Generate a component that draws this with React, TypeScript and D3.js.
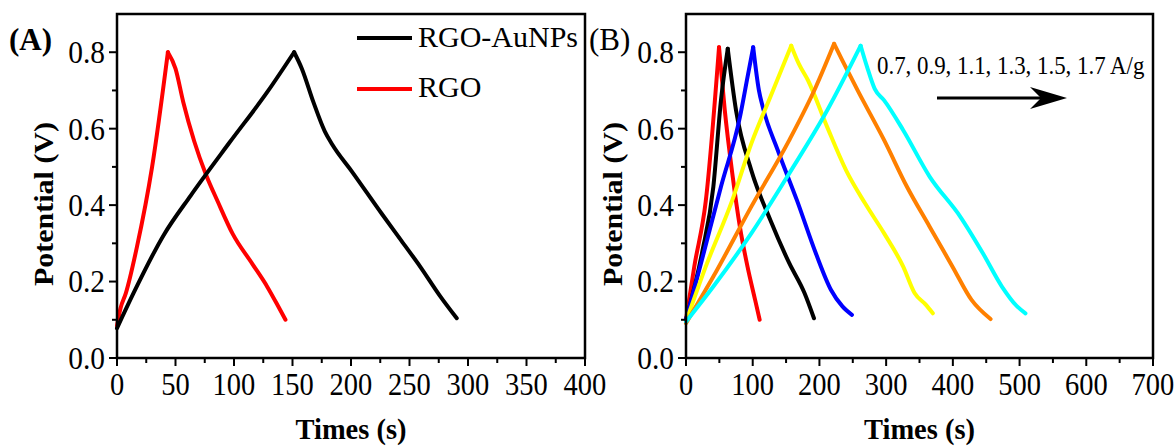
import * as d3 from "d3";

// Panel A: RGO-AuNPs vs RGO
const aunpsTime = [0, 14, 40, 63, 96, 128.5, 151.4, 158, 167.8, 177.6, 184.1, 200.5, 226.6, 243, 259.4, 275.7, 290.4];
const aunpsPot = [0.078, 0.169, 0.322, 0.425, 0.563, 0.696, 0.8, 0.757, 0.67, 0.593, 0.558, 0.489, 0.376, 0.307, 0.238, 0.164, 0.104];
const rgoTime = [0, 3, 7.5, 17, 30, 43.5, 50, 56.6, 66, 76, 86, 99, 115.5, 128.5, 138, 144];
const rgoPot = [0.085, 0.13, 0.169, 0.29, 0.5, 0.8, 0.757, 0.67, 0.567, 0.48, 0.41, 0.324, 0.247, 0.186, 0.134, 0.1];

// Panel B: current densities
const redTime = [0, 12.5, 29.6, 49.5, 58, 69.4, 80.8, 92.2, 103.6, 110.4];
const redPot = [0.1, 0.24, 0.41, 0.813, 0.65, 0.483, 0.343, 0.239, 0.152, 0.1];
const blackTime = [0, 23.9, 41, 52.4, 62.6, 75, 97.9, 126.4, 154.8, 177.6, 191.8];
const blackPot = [0.1, 0.274, 0.448, 0.674, 0.809, 0.648, 0.491, 0.361, 0.248, 0.17, 0.104];
const blueTime = [0, 23.9, 52.4, 80.8, 92.2, 100.7, 109.3, 115, 137.7, 166.2, 194.6, 217.4, 234.5, 248.7];
const bluePot = [0.1, 0.257, 0.448, 0.63, 0.735, 0.813, 0.7, 0.657, 0.543, 0.413, 0.274, 0.178, 0.135, 0.113];
const yellowTime = [0, 29.6, 69.4, 97.9, 126.4, 157.7, 169, 183, 211.7, 240, 268.6, 297, 325.6, 342.6, 359.7, 370];
const yellowPot = [0.095, 0.239, 0.413, 0.561, 0.683, 0.817, 0.77, 0.726, 0.604, 0.491, 0.404, 0.326, 0.239, 0.17, 0.139, 0.117];
const orangeTime = [0, 41, 97.9, 154.8, 194.6, 222, 234.5, 257.3, 297, 331.2, 365.4, 399.5, 428, 456.5];
const orangePot = [0.091, 0.213, 0.396, 0.57, 0.709, 0.822, 0.778, 0.7, 0.57, 0.448, 0.343, 0.239, 0.152, 0.102];
const cyanTime = [0, 41, 97.9, 154.8, 211.7, 261.8, 271.5, 282.9, 297, 325.6, 365.4, 411, 445, 473.5, 496.3, 508.8];
const cyanPot = [0.095, 0.187, 0.326, 0.483, 0.648, 0.817, 0.761, 0.704, 0.674, 0.596, 0.474, 0.37, 0.274, 0.187, 0.135, 0.117];

const yTicks = [0, 0.2, 0.4, 0.6, 0.8];
const yMinor = [0.1, 0.3, 0.5, 0.7];
const xTicksA = [0, 50, 100, 150, 200, 250, 300, 350, 400];
const xMinorA = [25, 75, 125, 175, 225, 275, 325, 375];
const xTicksB = [0, 100, 200, 300, 400, 500, 600, 700];
const xMinorB = [50, 150, 250, 350, 450, 550, 650];

const seriesB = [
  { t: redTime, v: redPot, color: "#ff0000" },
  { t: blackTime, v: blackPot, color: "#000000" },
  { t: blueTime, v: bluePot, color: "#0000ff" },
  { t: yellowTime, v: yellowPot, color: "#ffff00" },
  { t: orangeTime, v: orangePot, color: "#ff8000" },
  { t: cyanTime, v: cyanPot, color: "#00ffff" },
];

const FONT = "'Liberation Serif', 'Times New Roman', serif";
const top = 14;
const bottom = 358;

function Panel({ left, right, xMax, xTicks, xMinor, series, label, labelBold, labelX, yLabelX }) {
  const x = d3.scaleLinear().domain([0, xMax]).range([left, right]);
  const y = d3.scaleLinear().domain([0, 0.9]).range([bottom, top]);
  const line = d3
    .line<number[]>()
    .x((d) => x(d[0]))
    .y((d) => y(d[1]))
    .curve(d3.curveMonotoneX);

  // charge and discharge branches drawn separately so the peak stays sharp
  const branches = (s) => {
    const pts = s.t.map((t, j) => [t, s.v[j]]);
    const k = d3.maxIndex(s.v);
    return [pts.slice(0, k + 1), pts.slice(k)];
  };

  return (
    <g>
      {series.map((s, i) =>
        branches(s).map((b, j) => (
          <path
            key={i + "-" + j}
            d={line(b) || ""}
            fill="none"
            stroke={s.color}
            strokeWidth={4}
            strokeLinejoin="round"
            strokeLinecap="round"
          />
        ))
      )}
      <rect x={left} y={top} width={right - left} height={bottom - top} fill="none" stroke="#000" strokeWidth={2.5} />
      {yTicks.map((v) => (
        <g key={v}>
          <line x1={left - 8} x2={left} y1={y(v)} y2={y(v)} stroke="#000" strokeWidth={2} />
          <text
            transform={`translate(${left - 12},${y(v)}) scale(0.95,1)`}
            dy="0.35em"
            textAnchor="end"
            fontSize={31}
            fontFamily={FONT}
          >
            {v.toFixed(1)}
          </text>
        </g>
      ))}
      {yMinor.map((v) => (
        <line key={v} x1={left - 5} x2={left} y1={y(v)} y2={y(v)} stroke="#000" strokeWidth={2} />
      ))}
      {xTicks.map((t) => (
        <g key={t}>
          <line x1={x(t)} x2={x(t)} y1={bottom} y2={bottom + 8} stroke="#000" strokeWidth={2} />
          <text
            transform={`translate(${x(t)},395) scale(0.92,1)`}
            textAnchor="middle"
            fontSize={31}
            fontFamily={FONT}
          >
            {t}
          </text>
        </g>
      ))}
      {xMinor.map((t) => (
        <line key={t} x1={x(t)} x2={x(t)} y1={bottom} y2={bottom + 5} stroke="#000" strokeWidth={2} />
      ))}
      <text
        transform={`translate(${(left + right) / 2},439) scale(0.95,1)`}
        textAnchor="middle"
        fontSize={30}
        fontWeight="bold"
        fontFamily={FONT}
      >
        Times (s)
      </text>
      <text
        transform={`translate(${yLabelX},204) scale(0.9,1) rotate(-90)`}
        textAnchor="middle"
        fontSize={30}
        fontWeight="bold"
        fontFamily={FONT}
      >
        Potential (V)
      </text>
      <text x={labelX} y={50} fontSize={31} fontWeight={labelBold ? "bold" : "normal"} fontFamily={FONT}>
        {label}
      </text>
    </g>
  );
}

export default function App() {
  return (
    <svg width={1176} height={448} style={{ position: "absolute", left: 0, top: 0, background: "#fff" }}>
      <Panel
        left={117}
        right={585}
        xMax={400}
        xTicks={xTicksA}
        xMinor={xMinorA}
        series={[
          { t: rgoTime, v: rgoPot, color: "#ff0000" },
          { t: aunpsTime, v: aunpsPot, color: "#000000" },
        ]}
        label="(A)"
        labelBold={true}
        labelX={9}
        yLabelX={53}
      />
      <line x1={357} x2={412} y1={38} y2={38} stroke="#000" strokeWidth={4} />
      <text x={418} y={47} fontSize={30} fontFamily={FONT}>RGO-AuNPs</text>
      <line x1={357} x2={412} y1={89} y2={89} stroke="#ff0000" strokeWidth={4} />
      <text x={418} y={97} fontSize={30} fontFamily={FONT}>RGO</text>

      <Panel
        left={686}
        right={1153}
        xMax={700}
        xTicks={xTicksB}
        xMinor={xMinorB}
        series={seriesB}
        label="(B)"
        labelBold={false}
        labelX={589}
        yLabelX={622}
      />
      <text transform="translate(877,74) scale(0.88,1)" fontSize={26} fontFamily={FONT}>
        0.7, 0.9, 1.1, 1.3, 1.5, 1.7 A/g
      </text>
      <line x1={937} x2={1045} y1={98} y2={98} stroke="#000" strokeWidth={3} />
      <path d="M1067,98 L1030,87 L1041,98 L1030,109 Z" fill="#000" />
    </svg>
  );
}
